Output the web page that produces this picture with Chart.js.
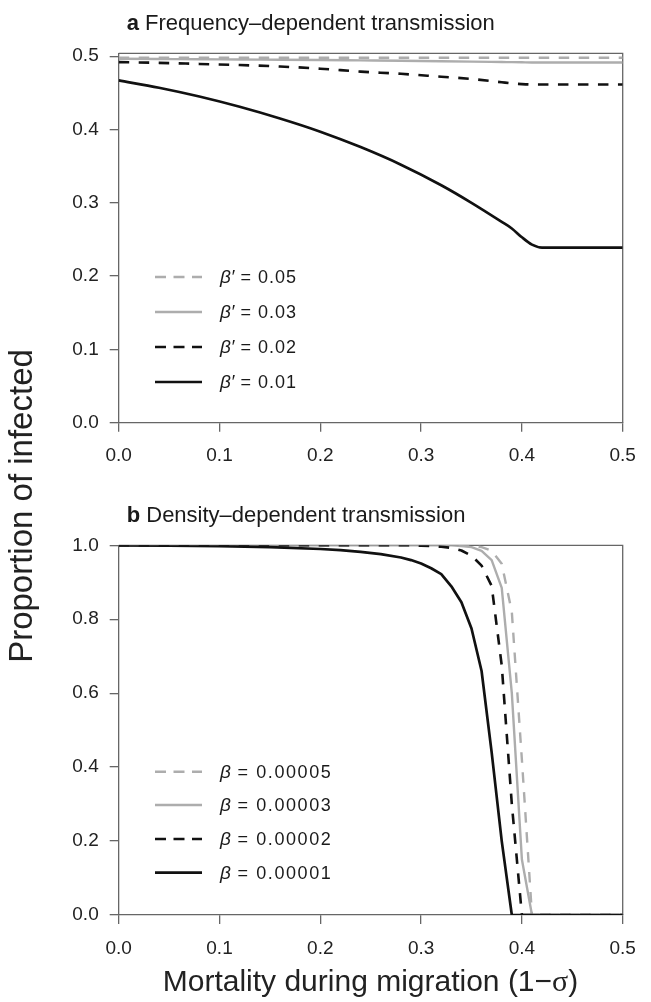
<!DOCTYPE html>
<html><head><meta charset="utf-8">
<script src="https://cdn.jsdelivr.net/npm/chart.js@4"></script>
<style>
html,body{margin:0;padding:0;background:#fff;}
#wrap{position:relative;width:651px;height:1002px;overflow:hidden;font-family:"Liberation Sans",Arial,sans-serif;color:#222;background:#fff;}
canvas{position:absolute;left:0;}
#ca{top:0;}
#cb{top:480px;}
#ytitle{position:absolute;width:420px;height:34px;line-height:34px;text-align:center;font-size:33px;white-space:nowrap;transform:rotate(-90deg);left:-189px;top:489px;}
#xtitle{position:absolute;width:651px;text-align:center;font-size:30px;white-space:nowrap;left:45px;top:965px;line-height:32px;}
.sig{font-family:"Liberation Serif","Times New Roman",serif;}
</style></head>
<body>
<div id="wrap">
<canvas id="ca" width="651" height="480"></canvas>
<canvas id="cb" width="651" height="522"></canvas>
<div id="ytitle">Proportion of infected</div>
<div id="xtitle">Mortality during migration (1−<span class="sig">σ</span>)</div>
</div>
<script>
// ---- data ----
const xTicks = [0, 0.1, 0.2, 0.3, 0.4, 0.5];
const yTicksA = [0, 0.1, 0.2, 0.3, 0.4, 0.5];
const yTicksB = [0, 0.2, 0.4, 0.6, 0.8, 1.0];

// panel a: frequency-dependent transmission
const xA = [0, 0.04, 0.08, 0.12, 0.16, 0.20, 0.24, 0.28, 0.32, 0.35, 0.38, 0.39, 0.40, 0.41, 0.42, 0.45, 0.50];
const freq005 = [0.498, 0.498, 0.498, 0.498, 0.498, 0.498, 0.498, 0.498, 0.498, 0.498, 0.498, 0.498, 0.498, 0.498, 0.498, 0.498, 0.498];
const freq003 = [0.4965, 0.4962, 0.4959, 0.4955, 0.4952, 0.4948, 0.4943, 0.4938, 0.4932, 0.4927, 0.4921, 0.4919, 0.4917, 0.4915, 0.4915, 0.4915, 0.4915];
const freq002 = [0.492, 0.491, 0.4895, 0.488, 0.486, 0.483, 0.479, 0.476, 0.472, 0.469, 0.4645, 0.463, 0.462, 0.4615, 0.4615, 0.4615, 0.4615];
const freq001 = [0.467, 0.457, 0.445, 0.431, 0.415, 0.397, 0.376, 0.352, 0.324, 0.300, 0.274, 0.265, 0.253, 0.243, 0.239, 0.239, 0.239];
const labelsA = ["0.05", "0.03", "0.02", "0.01"];

// panel b: density-dependent transmission
const xB = [0, 0.05, 0.10, 0.15, 0.20, 0.22, 0.24, 0.26, 0.28, 0.29, 0.30, 0.31, 0.32, 0.33, 0.34, 0.35, 0.36, 0.37, 0.38, 0.39, 0.40, 0.41, 0.42, 0.45, 0.50];
const dens005 = [1, 1, 1, 1, 1, 1, 1, 1, 1, 1, 1, 1, 1, 1, 1, 0.999, 0.995, 0.985, 0.950, 0.820, 0.420, 0, 0, 0, 0];
const dens003 = [1, 1, 1, 1, 1, 1, 1, 1, 1, 1, 1, 1, 1, 1, 0.998, 0.995, 0.985, 0.960, 0.885, 0.600, 0.150, 0, 0, 0, 0];
const dens002 = [1, 1, 1, 1, 1, 1, 1, 1, 1, 1, 0.999, 0.998, 0.996, 0.993, 0.986, 0.972, 0.945, 0.890, 0.675, 0.300, 0, 0, 0, 0, 0];
const dens001 = [1, 0.999, 0.998, 0.995, 0.990, 0.987, 0.982, 0.976, 0.967, 0.960, 0.951, 0.938, 0.922, 0.889, 0.846, 0.775, 0.660, 0.440, 0.200, 0, 0, 0, 0, 0, 0];
const labelsB = ["0.00005", "0.00003", "0.00002", "0.00001"];

// ---- styles ----
const GRAY = '#adadad', BLACK = '#111111', AXIS = '#666666';
const FONT = '"Liberation Sans", Arial, sans-serif';
const styles = [
  {color: GRAY, width: 2.4, dash: [10.5, 9.5]},
  {color: GRAY, width: 2.4, dash: []},
  {color: BLACK, width: 2.6, dash: [10.5, 9.5]},
  {color: BLACK, width: 2.7, dash: []}
];

function pts(xs, ys) { return xs.map((x, i) => ({x: x, y: ys[i]})); }
function mkDatasets(xs, series, labels, smooth) {
  return series.map((s, i) => ({
    label: labels[i], data: pts(xs, s), borderColor: styles[i].color,
    borderWidth: styles[i].width, borderDash: styles[i].dash, pointRadius: 0,
    fill: false, tension: smooth ? 0.4 : 0, cubicInterpolationMode: smooth ? 'monotone' : 'default',
    borderCapStyle: 'butt', borderJoinStyle: 'round'
  })).reverse();
}

const frame = {
  id: 'frame',
  beforeDatasetsDraw(chart) {
    const {ctx, chartArea: a} = chart;
    ctx.save(); ctx.strokeStyle = AXIS; ctx.lineWidth = 1.3;
    ctx.beginPath(); ctx.moveTo(a.left, a.top); ctx.lineTo(a.right, a.top); ctx.lineTo(a.right, a.bottom); ctx.stroke();
    ctx.restore();
  }
};

const deco = {
  id: 'deco',
  afterDraw(chart, args, o) {
    const ctx = chart.ctx;
    ctx.save();
    // title
    ctx.fillStyle = '#1a1a1a'; ctx.textBaseline = 'alphabetic'; ctx.textAlign = 'left';
    ctx.font = 'bold 22px ' + FONT;
    ctx.fillText(o.letter, o.titleX, o.titleY);
    const w = ctx.measureText(o.letter).width;
    ctx.font = '22px ' + FONT;
    ctx.fillText(' ' + o.title, o.titleX + w, o.titleY);
    // legend
    o.labels.forEach((lab, i) => {
      const st = styles[i], y = o.rows[i];
      ctx.strokeStyle = st.color; ctx.lineWidth = st.width; ctx.setLineDash(st.dash.length ? [11, 7.5] : []);
      ctx.beginPath(); ctx.moveTo(o.lineX0, y); ctx.lineTo(o.lineX1, y); ctx.stroke();
      ctx.setLineDash([]);
      ctx.fillStyle = '#1a1a1a'; ctx.textBaseline = 'middle';
      let x = o.textX;
      ctx.font = 'italic 19px ' + FONT;
      ctx.fillText('β' + o.prime, x, y + 1);
      x += ctx.measureText('β' + o.prime).width;
      ctx.font = '18px ' + FONT;
      ctx.letterSpacing = o.spacing;
      ctx.fillText(' = ' + lab, x, y + 1);
      ctx.letterSpacing = '0px';
    });
    ctx.restore();
  }
};

function axisOpts(ticksArr, isX, min, max, pad) {
  return {
    type: 'linear', min: min, max: max,
    afterFit: s => { if (isX) s.height = 40; else s.width = 118.7; },
    afterBuildTicks: s => { s.ticks = ticksArr.map(v => ({value: v})); },
    ticks: {callback: v => Number(v).toFixed(1), font: {size: 19, family: FONT}, color: '#222', padding: pad, maxRotation: 0, autoSkip: false, includeBounds: false},
    grid: {drawOnChartArea: false, drawTicks: true, tickLength: 9, color: AXIS, lineWidth: 1.3},
    border: {display: true, color: AXIS, width: 1.3}
  };
}

function make(id, datasets, yTicks, yMax, padding, decoOpts) {
  return new Chart(document.getElementById(id), {
    type: 'line',
    data: {datasets: datasets},
    plugins: [frame, deco],
    options: {
      responsive: false, animation: false, devicePixelRatio: 1,
      layout: {padding: padding},
      plugins: {legend: {display: false}, tooltip: {enabled: false}, deco: decoOpts},
      scales: {x: axisOpts(xTicks, true, 0, 0.5, 13), y: axisOpts(yTicks, false, 0, yMax, 11)}
    }
  });
}

make('ca', mkDatasets(xA, [freq005, freq003, freq002, freq001], labelsA, true), yTicksA, 0.504,
  {left: 0, right: 28.3, top: 53.3, bottom: 17.3},
  {letter: 'a', title: 'Frequency–dependent transmission', titleX: 126.7, titleY: 30,
   labels: labelsA, prime: '′', rows: [277, 312, 347, 382], lineX0: 155, lineX1: 202, textX: 220, spacing: '1px'});

make('cb', mkDatasets(xB, [dens005, dens003, dens002, dens001], labelsB, false), yTicksB, 1.0,
  {left: 0, right: 28.3, top: 65.3, bottom: 47},
  {letter: 'b', title: 'Density–dependent transmission', titleX: 126.7, titleY: 41.7,
   labels: labelsB, prime: '', rows: [291.7, 325, 359, 392.7], lineX0: 155, lineX1: 202, textX: 220, spacing: '1.6px'});
</script>
</body></html>
